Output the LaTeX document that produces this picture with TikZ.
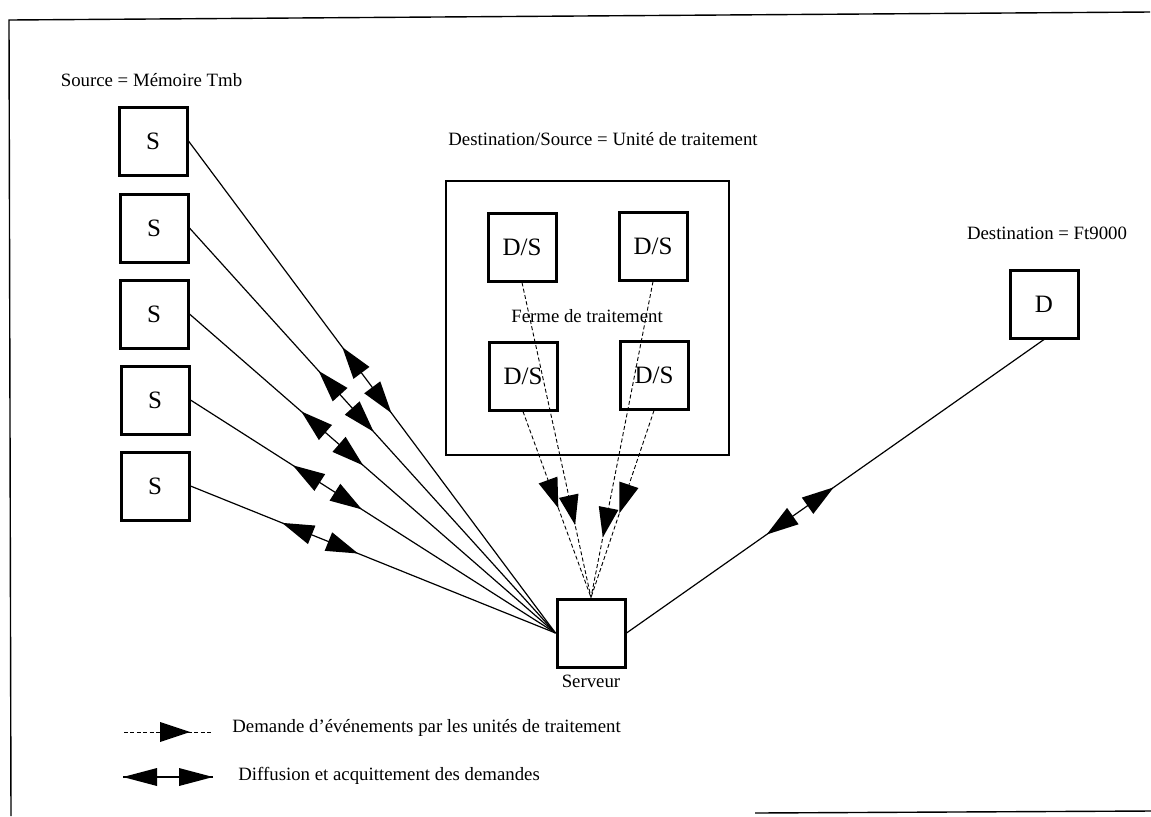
\documentclass[tikz,border=0pt]{standalone}
\usepackage{fontspec}
\setmainfont{Liberation Serif}
\usetikzlibrary{decorations.markings}
\begin{document}
\begin{tikzpicture}[x=0.5pt,y=-0.5pt,
  box/.style={draw, line width=1.5pt, minimum size=34pt, inner sep=0pt, font=\fontsize{12.5}{14}\selectfont},
  lbl/.style={font=\fontsize{9.4}{11}\selectfont, inner sep=0pt},
  conn/.style={line width=0.6pt},
  dconn/.style={line width=0.45pt, dash pattern=on 2pt off 1.2pt},
  dbl/.style={postaction={decorate,decoration={markings,mark=at position #1 with {%
      \fill (-20.5pt,0) -- (-4.5pt,5pt) -- (-4.5pt,-5pt) -- cycle;
      \fill (20.5pt,0) -- (4.5pt,5pt) -- (4.5pt,-5pt) -- cycle;}}}},
  dbllg/.style={postaction={decorate,decoration={markings,mark=at position #1 with {%
      \fill (-22.5pt,0) -- (-5.5pt,4.5pt) -- (-5.5pt,-4.5pt) -- cycle;
      \fill (22.5pt,0) -- (5.5pt,4.5pt) -- (5.5pt,-4.5pt) -- cycle;}}}},
  sgl/.style={postaction={decorate,decoration={markings,mark=at position #1 with {%
      \fill (0,0) -- (-15pt,5pt) -- (-15pt,-5pt) -- cycle;}}}}
]
\useasboundingbox (0,0) rectangle (1151,816);
% frame
\draw[line width=0.7pt] (11,816) -- (9,20) -- (1150,12);
\draw[line width=0.7pt] (755,813) -- (1151,811);

% sources
\node[box] (s1) at (153,141) {S};
\node[box] (s2) at (154,228) {S};
\node[box] (s3) at (154,314) {S};
\node[box] (s4) at (155,400) {S};
\node[box] (s5) at (155,486) {S};
\node[lbl] (srcl) at (151.5,80) {Source = Mémoire Tmb};

% farm
\node[draw, line width=0.6pt, minimum width=141.5pt, minimum height=137pt, inner sep=0pt] (farm) at (587.5,318) {};
\node[lbl] (dsl) at (603,139) {Destination/Source = Unité de traitement};
\node[lbl] (ferme) at (587,316) {Ferme de traitement};
\node[box] (ds1) at (522,247) {D/S};
\node[box] (ds2) at (653,246) {D/S};
\node[box] (ds3) at (523,376) {D/S};
\node[box] (ds4) at (654,375) {D/S};

% destination
\node[box] (d) at (1044,304) {D};
\node[lbl] (dl) at (1047,233) {Destination = Ft9000};

% server
\node[box] (srv) at (591,633) {};
\node[lbl] (srvl) at (591,681) {Serveur};

% connectors
\draw[conn, dbl=0.486] (s1.east) -- (srv.west);
\draw[conn, dbl=0.428] (s2.east) -- (srv.west);
\draw[conn, dbl=0.39] (s3.east) -- (srv.west);
\draw[conn, dbl=0.375] (s4.east) -- (srv.west);
\draw[conn, dbl=0.355] (s5.east) -- (srv.west);
\draw[conn, dbl=0.416] (srv.east) -- (d.south);

\draw[dconn, sgl=0.77] (ds1.south) -- (srv.north);
\draw[dconn, sgl=0.52] (ds3.south) -- (srv.north);
\draw[dconn, sgl=0.81] (ds2.south) -- (srv.north);
\draw[dconn, sgl=0.55] (ds4.south) -- (srv.north);

% legend
\coordinate (l1a) at (124,732);
\coordinate (l1b) at (211,732);
\draw[dconn, sgl=0.76] (l1a) -- (l1b);
\node[lbl, anchor=west] (lt1) at (232,728) {Demande d’événements par les unités de traitement};
\coordinate (l2a) at (123,777);
\coordinate (l2b) at (213,777);
\draw[conn, dbllg=0.5] (l2a) -- (l2b);
\node[lbl, anchor=west] (lt2) at (238,776) {Diffusion et acquittement des demandes};
\end{tikzpicture}
\end{document}
